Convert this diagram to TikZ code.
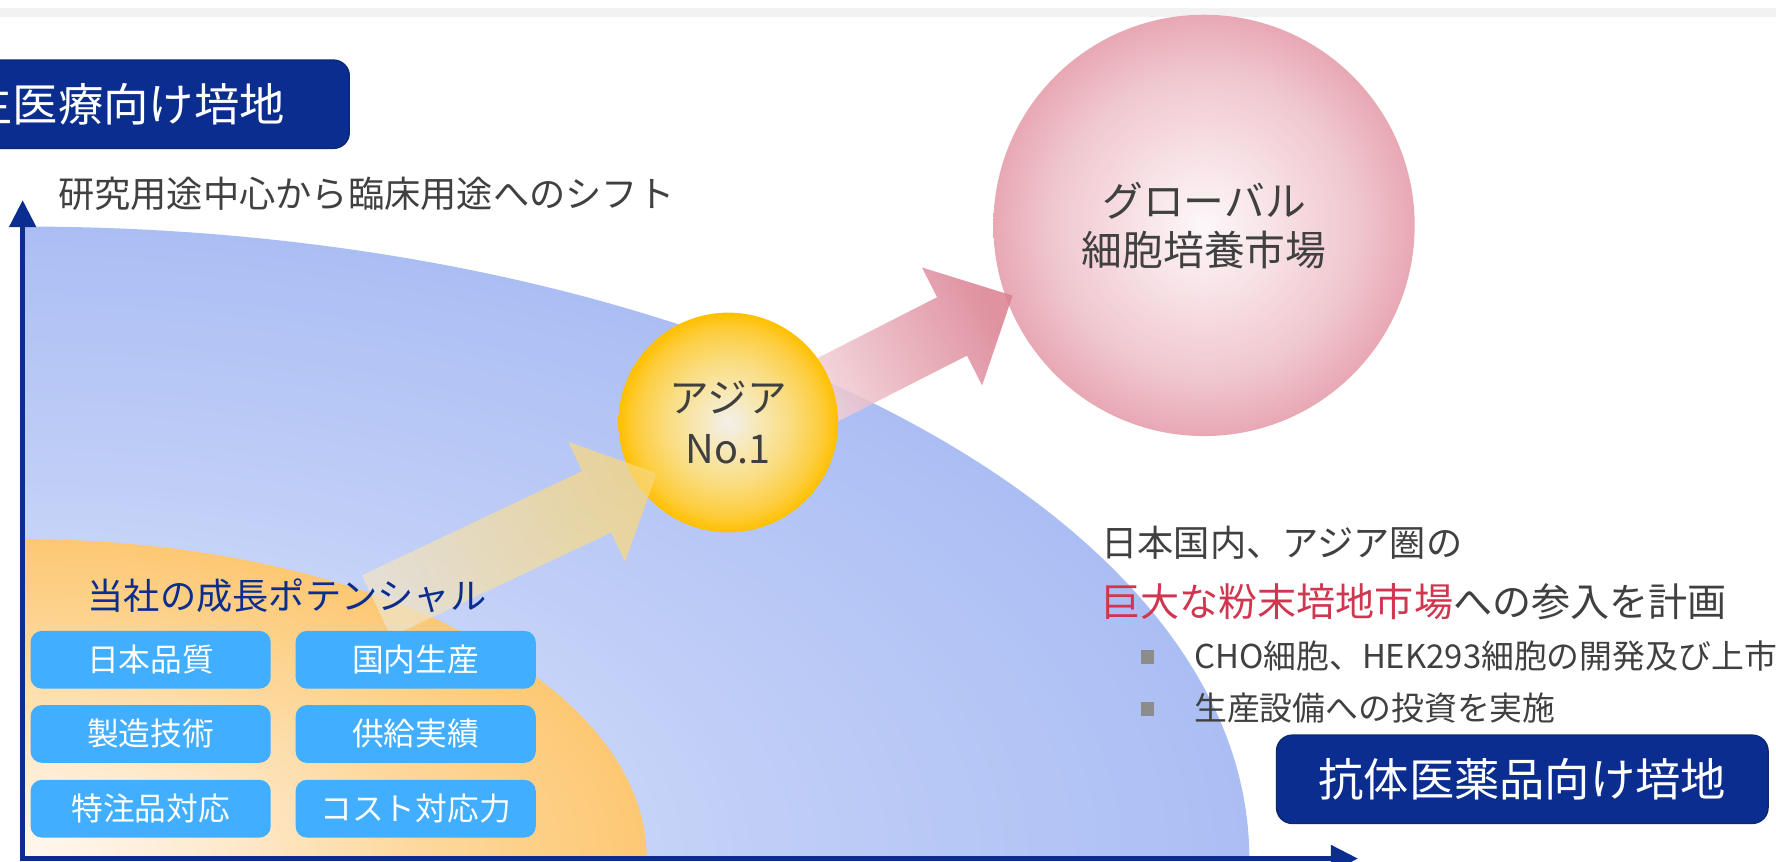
\documentclass[tikz,border=0pt]{standalone}
\usepackage{fontspec}
\newfontfamily\jp{Noto Sans CJK JP}
\usetikzlibrary{arrows.meta}
\definecolor{navy}{HTML}{0A2D8F}
\definecolor{navyb}{HTML}{0B2870}
\definecolor{sky}{HTML}{41AEFF}
\definecolor{txtgray}{HTML}{404040}
\definecolor{crim}{HTML}{D0364F}
\definecolor{bulgray}{HTML}{8C8C8C}
\definecolor{band}{HTML}{F2F2F2}
\definecolor{blA}{HTML}{E6EDFC}
\definecolor{blB}{HTML}{D5DFF9}
\definecolor{blC}{HTML}{C0CEF7}
\definecolor{blD}{HTML}{ABBEF4}
\definecolor{orA}{HTML}{FFF8F0}
\definecolor{orB}{HTML}{FEEBD0}
\definecolor{orC}{HTML}{FDD89C}
\definecolor{orD}{HTML}{FDC873}
\definecolor{yeA}{HTML}{F1EFEC}
\definecolor{yeB}{HTML}{F7E9BC}
\definecolor{yeC}{HTML}{FADD80}
\definecolor{yeD}{HTML}{FDCD3E}
\definecolor{yeE}{HTML}{FFC000}
\definecolor{piA}{HTML}{FDF7F9}
\definecolor{piB}{HTML}{F8E4E8}
\definecolor{piC}{HTML}{F0C7CF}
\definecolor{piD}{HTML}{E8A8B4}
\definecolor{parHead}{HTML}{DA7F90}
\definecolor{parTail}{HTML}{F6E0E5}
\definecolor{yarHead}{HTML}{F8D77C}
\definecolor{yarTail}{HTML}{EFE3C8}
% the central 50bp square of a shading is fitted to the path, so 25bp is the rim
\pgfdeclareradialshading{blueq}{\pgfpoint{0bp}{0bp}}{color(0bp)=(blA); color(7.5bp)=(blB); color(15bp)=(blC); color(25bp)=(blD); color(50bp)=(blD)}
\pgfdeclareradialshading{orangeq}{\pgfpoint{0bp}{0bp}}{color(0bp)=(orA); color(7.5bp)=(orB); color(16bp)=(orC); color(25bp)=(orD); color(50bp)=(orD)}
\pgfdeclareradialshading{yelc}{\pgfpoint{0bp}{0bp}}{color(0bp)=(yeA); color(6bp)=(yeB); color(14bp)=(yeC); color(21bp)=(yeD); color(25bp)=(yeE); color(50bp)=(yeE)}
\pgfdeclareradialshading{pinkc}{\pgfpoint{0bp}{0bp}}{color(0bp)=(piA); color(7.5bp)=(piB); color(18bp)=(piC); color(25bp)=(piD); color(50bp)=(piD)}
\tikzset{
  txt/.style={inner sep=0pt, text=txtgray},
  navybox/.style={draw=navyb, fill=navy, line width=0.6pt, rounded corners=7pt,
    text=white, inner sep=0pt, minimum height=39pt, font=\jp\fontsize{20pt}{24pt}\selectfont},
  skybox/.style={fill=sky, rounded corners=5pt, text=white, inner sep=0pt,
    minimum width=106pt, minimum height=25.5pt, font=\jp\fontsize{14pt}{16pt}\selectfont},
  axisline/.style={draw=navy, line width=2.35pt, line join=miter,
    {Triangle[length=12pt,width=11.5pt]}-{Triangle[length=12pt,width=11.5pt]}},
  bulletsq/.style={fill=bulgray, minimum size=6pt, inner sep=0pt}
}
\begin{document}
\begin{tikzpicture}[x=0.5pt,y=-0.5pt]
\useasboundingbox (0,0) rectangle (1568,761);
\clip (0,0) rectangle (1568,761);
% top band
\fill[band] (0,7) rectangle (1568,15);
% blue quarter ellipse
\begin{scope}
  \clip (20,0) rectangle (1568,758);
  \shade[shading=blueq] (20,758) ellipse [x radius=541.5pt, y radius=279pt];
\end{scope}
% orange quarter ellipse
\begin{scope}
  \clip (20,0) rectangle (1568,758);
  \shade[shading=orangeq] (20,758) ellipse [x radius=275.5pt, y radius=141pt];
\end{scope}
% pink circle
\node[circle, shading=pinkc, minimum size=186pt, inner sep=0pt, align=center,
  font=\jp\fontsize{18pt}{21.7pt}\selectfont, text=txtgray] (glob) at (1063,199)
  {グローバル\\細胞培養市場};
% pink block arrow
\shade[top color=parHead, bottom color=parTail, shading angle=-63, fill opacity=0.85]
  (675.8,339.6) -- (827.3,262.4) -- (813.9,236.1) -- (894,261) -- (867.1,340.3)
  -- (853.7,314.0) -- (702.2,391.2) -- cycle;
% yellow circle
\node[circle, shading=yelc, minimum size=97pt, inner sep=0pt, align=center,
  font=\jp\fontsize{17.5pt}{22.5pt}\selectfont, text=txtgray] (asia) at (643,373)
  {アジア\\No.1};
% yellow block arrow
\shade[top color=yarHead, bottom color=yarTail, shading angle=-64.7, fill opacity=0.75]
  (319.6,507.9) -- (514.0,415.9) -- (501.8,390.1) -- (579.8,417.9) -- (551.8,495.9)
  -- (539.6,470.1) -- (345.2,562.1) -- cycle;
% axes
\coordinate (ytop) at (20,176.6);
\coordinate (origin) at (20,758);
\coordinate (xend) at (1199,758);
\draw[axisline] (ytop) -- (origin) -- (xend);
% top-left label box
\node[navybox, anchor=east, inner xsep=28.5pt] (regen) at (309,92) {再生医療向け培地};
% bottom-right label box
\node[navybox, minimum width=217pt] (anti) at (1344,688) {抗体医薬品向け培地};
% texts
\node[txt, anchor=west, font=\jp\fontsize{16pt}{19pt}\selectfont] (shift) at (51,171)
  {研究用途中心から臨床用途へのシフト};
\node[inner sep=0pt, anchor=west, text=navy, font=\jp\fontsize{16pt}{19pt}\selectfont] (pot) at (77,526)
  {当社の成長ポテンシャル};
\node[skybox] (s1) at (133,582.5) {日本品質};
\node[skybox] (s2) at (367,582.5) {国内生産};
\node[skybox] (s3) at (133,648) {製造技術};
\node[skybox] (s4) at (367,648) {供給実績};
\node[skybox] (s5) at (133,714) {特注品対応};
\node[skybox] (s6) at (367,714) {コスト対応力};
\node[txt, anchor=west, font=\jp\fontsize{16pt}{19pt}\selectfont] (r1) at (972,479)
  {日本国内、アジア圏の};
\node[txt, anchor=west, font=\jp\fontsize{17.25pt}{20pt}\selectfont] (r2) at (972,531)
  {\textcolor{crim}{巨大な粉末培地市場}への参入を計画};
\node[bulletsq] (b1) at (1013,580) {};
\node[bulletsq] (b2) at (1013,626) {};
\node[txt, anchor=west, font=\jp\fontsize{14.5pt}{17pt}\selectfont] (r3) at (1054,579)
  {CHO細胞、HEK293細胞の開発及び上市};
\node[txt, anchor=west, font=\jp\fontsize{14.5pt}{17pt}\selectfont] (r4) at (1054,625)
  {生産設備への投資を実施};
\end{tikzpicture}
\end{document}
